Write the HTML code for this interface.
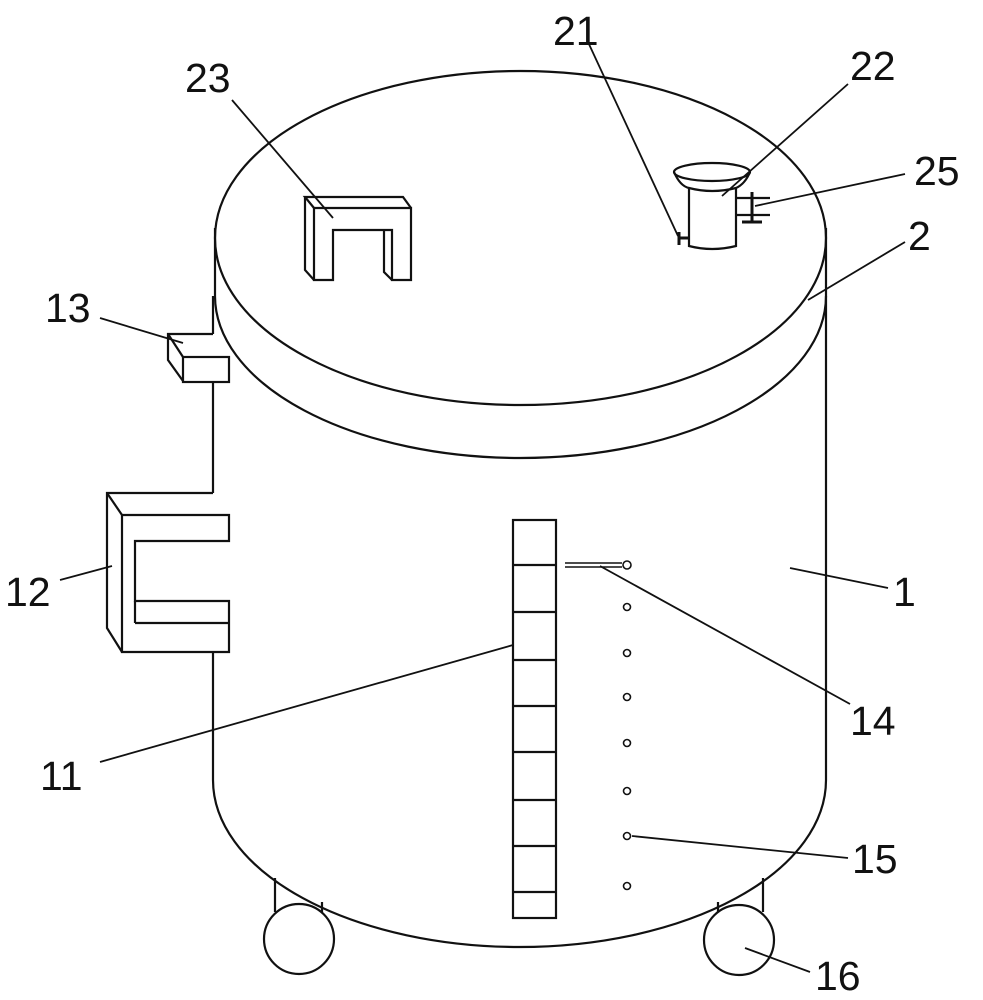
<!DOCTYPE html>
<html><head><style>body{margin:0;background:#fff}svg{display:block}text{font-family:"Liberation Sans",sans-serif;font-size:41px;fill:#111}</style></head>
<body>
<svg width="983" height="1000" viewBox="0 0 983 1000" fill="none" stroke="#111" stroke-width="2.2">
<!-- lid -->
<ellipse cx="520.5" cy="238" rx="305.5" ry="167"/>
<path d="M215 296 A305.5 162 0 0 0 826 296"/>
<line x1="215" y1="228" x2="215" y2="296"/>
<line x1="826" y1="228" x2="826" y2="296"/>
<!-- body -->
<line x1="213" y1="296" x2="213" y2="334"/>
<line x1="213" y1="382" x2="213" y2="493"/>
<line x1="213" y1="652" x2="213" y2="780"/>
<line x1="826" y1="296" x2="826" y2="780"/>
<path d="M213 780 A306.5 167 0 0 0 826 780"/>
<!-- wheels -->
<path d="M275 878 L275 912 M322 902 L322 916 M718 902 L718 916 M763 878 L763 912"/>
<circle cx="299" cy="939" r="35" fill="#fff"/>
<circle cx="739" cy="940" r="35" fill="#fff"/>
<!-- box 13 -->
<path d="M213 334 L168 334 L168 360 L183 381"/>
<line x1="168" y1="334" x2="183" y2="357"/>
<rect x="183" y="357" width="46" height="25"/>
<!-- handle 12 -->
<path d="M213 493 L107 493 L107 628 L122 652"/>
<line x1="107" y1="493" x2="122" y2="515"/>
<path d="M122 515 L229 515 L229 541 L135 541 L135 601 L229 601 L229 623 L229 652 L122 652 Z"/>
<path d="M135 623 L229 623"/>
<path d="M135 601 L135 623"/>
<!-- handle 23 -->
<path d="M314 208 L305 197 L403 197 L411 208"/>
<path d="M305 197 L305 270 L314 280"/>
<path d="M314 208 L411 208 L411 280 L392 280 L392 230 L333 230 L333 280 L314 280 Z"/>
<path d="M384 230 L384 272 L392 280"/>
<!-- funnel 22 -->
<ellipse cx="712" cy="172" rx="38" ry="9"/>
<path d="M674 172 Q680 186 689 188 L689 246 Q712 252 736 246 L736 188 Q745 184 750 172"/>
<path d="M689 188 Q712 194 736 188"/>
<path d="M680 238 L689 238 M679 232 L679 245" stroke-width="3"/>
<path d="M736 198 L770 198 M736 215 L770 215"/>
<path d="M752 192 L752 222 M742 222 L762 222" stroke-width="3"/>
<!-- scale 11 -->
<rect x="513" y="520" width="43" height="398"/>
<path d="M513 565 H556 M513 612 H556 M513 660 H556 M513 706 H556 M513 752 H556 M513 800 H556 M513 846 H556 M513 892 H556"/>
<!-- 14 -->
<path d="M565 563 L622 563 M565 567 L622 567" stroke-width="1.5"/>
<g stroke-width="1.6">
<circle cx="627" cy="565" r="4"/><circle cx="627" cy="607" r="3.5"/><circle cx="627" cy="653" r="3.5"/><circle cx="627" cy="697" r="3.5"/><circle cx="627" cy="743" r="3.5"/><circle cx="627" cy="791" r="3.5"/><circle cx="627" cy="836" r="3.5"/><circle cx="627" cy="886" r="3.5"/>
</g>
<!-- leaders -->
<g stroke-width="1.8">
<path d="M588 42 L678 236"/>
<path d="M848 84 L722 196"/>
<path d="M905 174 L755 206"/>
<path d="M905 242 L808 300"/>
<path d="M232 100 L333 218"/>
<path d="M100 318 L183 343"/>
<path d="M60 580 L112 566"/>
<path d="M888 588 L790 568"/>
<path d="M100 762 L513 645"/>
<path d="M850 704 L600 566"/>
<path d="M848 858 L632 836"/>
<path d="M810 972 L745 948"/>
</g>
<g stroke="none">
<text x="553" y="45">21</text>
<text x="850" y="80">22</text>
<text x="185" y="92">23</text>
<text x="914" y="185">25</text>
<text x="908" y="250">2</text>
<text x="45" y="322">13</text>
<text x="5" y="606">12</text>
<text x="893" y="606">1</text>
<text x="40" y="790">11</text>
<text x="850" y="735">14</text>
<text x="852" y="873">15</text>
<text x="815" y="990">16</text>
</g>
</svg>
</body></html>
